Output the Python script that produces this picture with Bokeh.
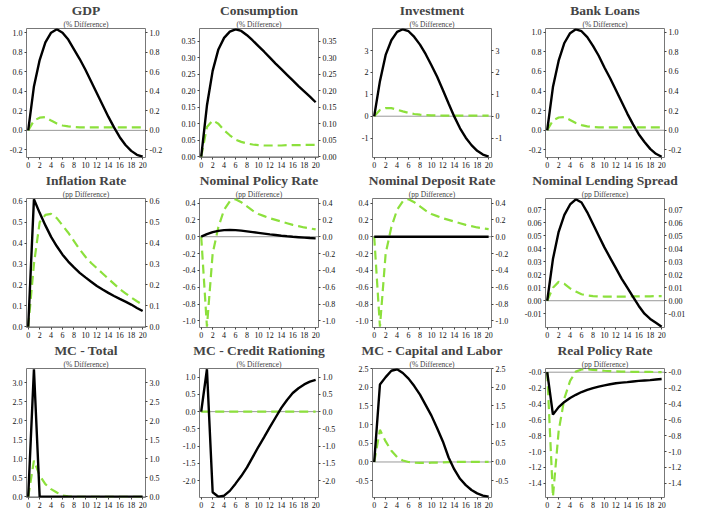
from bokeh.plotting import figure
from bokeh.models import Range1d, LinearAxis, FixedTicker, Title, Span
from bokeh.layouts import gridplot
from bokeh.embed import file_html
from bokeh.resources import INLINE

periods = list(range(21))
x_ticks = [0, 2, 4, 6, 8, 10, 12, 14, 16, 18, 20]

titles = ["GDP", "Consumption", "Investment", "Bank Loans",
          "Inflation Rate", "Nominal Policy Rate", "Nominal Deposit Rate", "Nominal Lending Spread",
          "MC - Total", "MC - Credit Rationing", "MC - Capital and Labor", "Real Policy Rate"]
subtitles = ["(% Difference)", "(% Difference)", "(% Difference)", "(% Difference)",
             "(pp Difference)", "(pp Difference)", "(pp Difference)", "(pp Difference)",
             "(% Difference)", "(% Difference)", "(% Difference)", "(pp Difference)"]

gdp_black = [0, 0.45, 0.72, 0.9, 1.0, 1.035, 1.0, 0.93, 0.83, 0.73, 0.62, 0.5, 0.38, 0.26, 0.14, 0.03, -0.07, -0.15, -0.21, -0.25, -0.27]
gdp_green = [0, 0.1, 0.13, 0.135, 0.1, 0.07, 0.05, 0.04, 0.035, 0.03, 0.03, 0.03, 0.03, 0.03, 0.03, 0.03, 0.03, 0.03, 0.03, 0.03, 0.03]

cons_black = [0, 0.155, 0.26, 0.325, 0.36, 0.379, 0.386, 0.381, 0.368, 0.352, 0.335, 0.318, 0.3, 0.282, 0.265, 0.248, 0.231, 0.214, 0.198, 0.182, 0.165]
cons_green = [0, 0.09, 0.11, 0.1, 0.08, 0.065, 0.052, 0.045, 0.04, 0.037, 0.035, 0.034, 0.034, 0.034, 0.034, 0.035, 0.035, 0.035, 0.036, 0.036, 0.036]

inv_black = [0, 1.6, 2.8, 3.47, 3.85, 3.97, 3.88, 3.62, 3.27, 2.83, 2.33, 1.8, 1.2, 0.58, -0.02, -0.55, -0.98, -1.32, -1.58, -1.75, -1.85]
inv_green = [0, 0.28, 0.37, 0.37, 0.3, 0.22, 0.15, 0.1, 0.07, 0.05, 0.04, 0.035, 0.03, 0.03, 0.03, 0.03, 0.03, 0.03, 0.03, 0.03, 0.03]

loans_black = [0, 0.44, 0.71, 0.89, 0.99, 1.03, 1.01, 0.95, 0.86, 0.76, 0.64, 0.53, 0.41, 0.29, 0.17, 0.06, -0.04, -0.12, -0.19, -0.24, -0.27]
loans_green = [0, 0.1, 0.13, 0.135, 0.105, 0.074, 0.053, 0.04, 0.032, 0.03, 0.03, 0.03, 0.03, 0.03, 0.03, 0.03, 0.03, 0.03, 0.03, 0.03, 0.03]

infl_black = [0, 0.61, 0.545, 0.485, 0.43, 0.385, 0.345, 0.312, 0.284, 0.258, 0.236, 0.215, 0.195, 0.178, 0.162, 0.147, 0.133, 0.12, 0.106, 0.09, 0.075]
infl_green = [0, 0.3, 0.5, 0.535, 0.54, 0.52, 0.485, 0.45, 0.41, 0.37, 0.335, 0.305, 0.28, 0.255, 0.23, 0.205, 0.18, 0.16, 0.14, 0.122, 0.105]

policy_black = [0, 0.03, 0.055, 0.07, 0.078, 0.08, 0.078, 0.072, 0.064, 0.055, 0.046, 0.037, 0.028, 0.02, 0.012, 0.005, -0.001, -0.006, -0.011, -0.016, -0.02]
policy_green = [0, -1.07, -0.2, 0.115, 0.32, 0.42, 0.445, 0.41, 0.36, 0.31, 0.27, 0.245, 0.22, 0.2, 0.18, 0.16, 0.14, 0.125, 0.11, 0.098, 0.087]

deposit_black = [0, 0, 0, 0, 0, 0, 0, 0, 0, 0, 0, 0, 0, 0, 0, 0, 0, 0, 0, 0, 0]
deposit_green = [0, -1.07, -0.2, 0.115, 0.32, 0.42, 0.445, 0.41, 0.36, 0.31, 0.27, 0.245, 0.22, 0.2, 0.18, 0.16, 0.14, 0.125, 0.11, 0.098, 0.09]

spread_black = [0, 0.032, 0.053, 0.066, 0.074, 0.078, 0.0755, 0.068, 0.059, 0.05, 0.041, 0.033, 0.025, 0.017, 0.01, 0.003, -0.004, -0.01, -0.014, -0.017, -0.02]
spread_green = [0, 0.01, 0.0145, 0.013, 0.0095, 0.007, 0.005, 0.004, 0.0035, 0.0033, 0.0032, 0.0032, 0.0032, 0.0032, 0.0032, 0.0033, 0.0033, 0.0034, 0.0034, 0.0035, 0.0035]

mct_black = [0, 3.35, 0, 0, 0, 0, 0, 0, 0, 0, 0, 0, 0, 0, 0, 0, 0, 0, 0, 0, 0]
mct_green = [0, 0.95, 0.56, 0.33, 0.2, 0.11, 0.03, 0.01, 0, 0, 0, 0, 0, 0, 0, 0, 0, 0, 0, 0, 0]

mccr_black = [0, 1.23, -2.34, -2.47, -2.44, -2.3, -2.09, -1.87, -1.62, -1.32, -1.02, -0.74, -0.45, -0.17, 0.11, 0.34, 0.54, 0.68, 0.79, 0.87, 0.92]
mccr_green = [0, 0, 0, 0, 0, 0, 0, 0, 0, 0, 0, 0, 0, 0, 0, 0, 0, 0, 0, 0, 0]

mccl_black = [0, 2.07, 2.27, 2.44, 2.48, 2.38, 2.23, 2.03, 1.8, 1.52, 1.24, 0.9, 0.55, 0.12, -0.2, -0.45, -0.62, -0.75, -0.84, -0.9, -0.93]
mccl_green = [0, 0.86, 0.55, 0.3, 0.13, 0.04, 0.0, -0.02, -0.025, -0.025, -0.02, -0.015, -0.01, -0.005, 0, 0, 0, 0, 0, 0, 0]

real_black = [0, -0.535, -0.44, -0.375, -0.325, -0.285, -0.25, -0.223, -0.2, -0.182, -0.166, -0.152, -0.14, -0.132, -0.125, -0.117, -0.11, -0.105, -0.1, -0.092, -0.085]
real_green = [0, -1.57, -0.74, -0.33, -0.11, 0.007, 0.035, 0.037, 0.03, 0.024, 0.018, 0.014, 0.01, 0.008, 0.006, 0.005, 0.004, 0.003, 0.003, 0.002, 0.002]

ticks_gdp = [-0.2, 0.0, 0.2, 0.4, 0.6, 0.8, 1.0]
labels_gdp = ["-0.2", "0.0", "0.2", "0.4", "0.6", "0.8", "1.0"]
ticks_cons = [0.0, 0.05, 0.1, 0.15, 0.2, 0.25, 0.3, 0.35]
labels_cons = ["0.00", "0.05", "0.10", "0.15", "0.20", "0.25", "0.30", "0.35"]
ticks_inv = [-1, 0, 1, 2, 3]
labels_inv = ["-1", "0", "1", "2", "3"]
ticks_infl = [0.0, 0.1, 0.2, 0.3, 0.4, 0.5, 0.6]
labels_infl = ["0.0", "0.1", "0.2", "0.3", "0.4", "0.5", "0.6"]
ticks_rate = [-1.0, -0.8, -0.6, -0.4, -0.2, 0.0, 0.2, 0.4]
labels_rate = ["-1.0", "-0.8", "-0.6", "-0.4", "-0.2", "0.0", "0.2", "0.4"]
ticks_spread = [-0.01, 0.0, 0.01, 0.02, 0.03, 0.04, 0.05, 0.06, 0.07]
labels_spread = ["-0.01", "0.00", "0.01", "0.02", "0.03", "0.04", "0.05", "0.06", "0.07"]
ticks_mct = [0.0, 0.5, 1.0, 1.5, 2.0, 2.5, 3.0]
labels_mct = ["0.0", "0.5", "1.0", "1.5", "2.0", "2.5", "3.0"]
ticks_mccr = [-2.0, -1.5, -1.0, -0.5, 0.0, 0.5, 1.0]
labels_mccr = ["-2.0", "-1.5", "-1.0", "-0.5", "0.0", "0.5", "1.0"]
ticks_mccl = [-0.5, 0.0, 0.5, 1.0, 1.5, 2.0, 2.5]
labels_mccl = ["-0.5", "0.0", "0.5", "1.0", "1.5", "2.0", "2.5"]
ticks_real = [-1.4, -1.2, -1.0, -0.8, -0.6, -0.4, -0.2, 0.0]
labels_real = ["-1.4", "-1.2", "-1.0", "-0.8", "-0.6", "-0.4", "-0.2", "-0.0"]

blacks = [gdp_black, cons_black, inv_black, loans_black, infl_black, policy_black,
          deposit_black, spread_black, mct_black, mccr_black, mccl_black, real_black]
greens = [gdp_green, cons_green, inv_green, loans_green, infl_green, policy_green,
          deposit_green, spread_green, mct_green, mccr_green, mccl_green, real_green]
tick_sets = [ticks_gdp, ticks_cons, ticks_inv, ticks_gdp, ticks_infl, ticks_rate,
             ticks_rate, ticks_spread, ticks_mct, ticks_mccr, ticks_mccl, ticks_real]
label_sets = [labels_gdp, labels_cons, labels_inv, labels_gdp, labels_infl, labels_rate,
              labels_rate, labels_spread, labels_mct, labels_mccr, labels_mccl, labels_real]

SERIF = "Liberation Serif"
GREEN = "#8ce03c"
W, H = 173, 170


def style_axis(ax):
    ax.axis_line_color = None
    ax.major_tick_out = 2
    ax.major_tick_in = 0
    ax.minor_tick_out = 0
    ax.minor_tick_in = 0
    ax.major_tick_line_color = "#444444"
    ax.major_label_text_font = SERIF
    ax.major_label_text_font_size = "8px"
    ax.major_label_text_color = "#111111"
    ax.major_label_standoff = 2


def make_panel(title, subtitle, black, green, ticks, labels):
    lo = min(min(black), min(green))
    hi = max(max(black), max(green))
    pad = (hi - lo) * 0.006
    p = figure(width=W, height=H, x_range=Range1d(-0.3, 20.5),
               y_range=Range1d(lo - pad, hi + pad),
               output_backend="svg", toolbar_location=None, title=None,
               min_border_left=26, min_border_right=28,
               min_border_top=0, min_border_bottom=0)
    p.add_layout(Title(text=subtitle, align="center", text_font=SERIF,
                       text_font_size="7.5px", text_font_style="normal",
                       standoff=0, offset=0), "above")
    p.add_layout(Title(text=title, align="center", text_font=SERIF,
                       text_font_size="13.5px", text_font_style="bold",
                       standoff=0, offset=0), "above")
    p.xgrid.visible = False
    p.ygrid.visible = False
    p.outline_line_color = "#777777"
    p.outline_line_width = 1
    p.background_fill_color = "white"
    p.border_fill_color = "white"

    p.xaxis.ticker = FixedTicker(ticks=x_ticks)
    p.yaxis.ticker = FixedTicker(ticks=ticks)
    p.yaxis.major_label_overrides = dict(zip(ticks, labels))
    right = LinearAxis(ticker=FixedTicker(ticks=ticks),
                       major_label_overrides=dict(zip(ticks, labels)))
    p.add_layout(right, "right")
    for ax in [p.xaxis[0], p.yaxis[0], right]:
        style_axis(ax)

    p.add_layout(Span(location=0, dimension="width", line_color="#999999",
                      line_width=1, level="underlay"))
    p.line(periods, green, line_color=GREEN, line_width=2.2, line_dash="9 5")
    p.line(periods, black, line_color="black", line_width=2.4)
    return p


panels = [make_panel(titles[i], subtitles[i], blacks[i], greens[i], tick_sets[i], label_sets[i])
          for i in range(12)]
grid = gridplot([panels[0:4], panels[4:8], panels[8:12]], toolbar_location=None)

open("out.html", "w").write(file_html(grid, INLINE))
